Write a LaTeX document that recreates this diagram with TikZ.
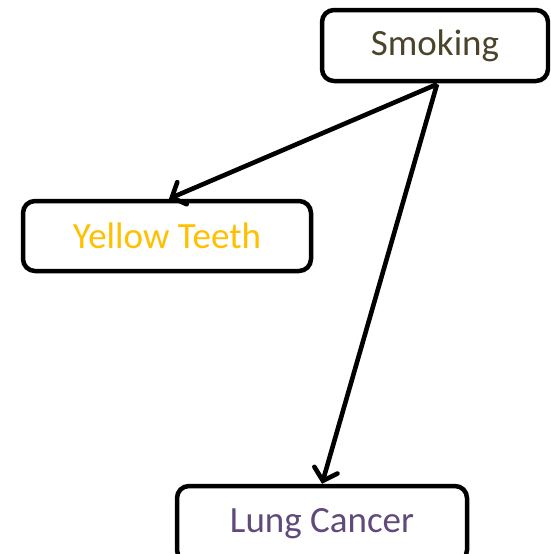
\documentclass[tikz,border=0pt]{standalone}
\usepackage{fontspec}
\setmainfont{Carlito}
\usetikzlibrary{arrows.meta}
\definecolor{smokecol}{HTML}{4A452A}
\definecolor{teethcol}{HTML}{FFC000}
\definecolor{cancercol}{HTML}{604A7B}
\tikzset{
  box/.style={draw=black, line width=4.5pt, rounded corners=12pt, fill=white,
              inner sep=0pt, font=\fontsize{37}{40}\selectfont},
  link/.style={line width=4.6pt, -{Straight Barb[length=11pt,width=24pt,line cap=round]}},
}
\begin{document}
\begin{tikzpicture}[x=1pt,y=-1pt]
  \useasboundingbox (0,0) rectangle (550,554);
  \begin{scope}
    \clip (0,0) rectangle (550,554);
    \node[box, minimum width=226pt, minimum height=71pt, text=smokecol]
      (smoking) at (435,45.5) {Smoking};
    \node[box, minimum width=288pt, minimum height=70pt, text=teethcol]
      (teeth) at (167,236) {Yellow Teeth};
    \node[box, minimum width=290pt, minimum height=76pt, text=cancercol]
      (cancer) at (322,524) {Lung Cancer};
    \draw[link] ([xshift=2pt,yshift=-1pt]smoking.south) -- ([xshift=2pt]teeth.north);
    \draw[link] ([xshift=2pt,yshift=-1pt]smoking.south) -- (cancer.north);
  \end{scope}
\end{tikzpicture}
\end{document}
